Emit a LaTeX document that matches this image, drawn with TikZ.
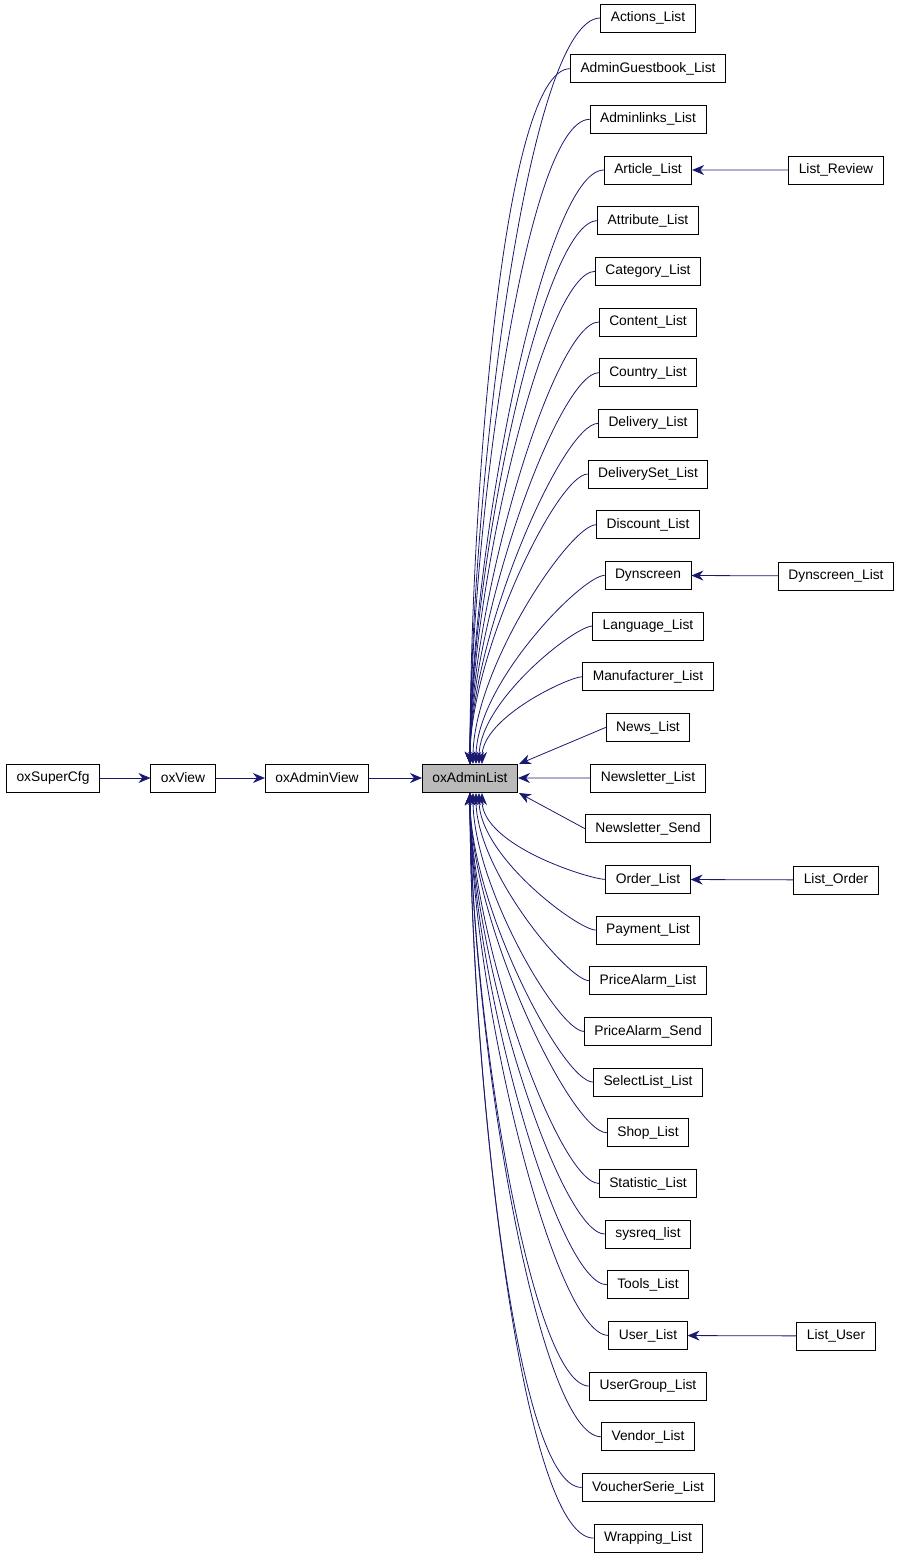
\documentclass[tikz,border=0pt]{standalone}
\usepackage{fontspec}
\setmainfont{Liberation Sans}
\usetikzlibrary{arrows.meta}
\definecolor{edgeblue}{RGB}{25,25,112}
\tikzset{
  cls/.style={draw, thick, fill=white, inner xsep=10pt, minimum height=28pt, font=\fontsize{13.8}{15}\selectfont},
  base/.style={cls, fill=black!27},
  inh/.style={edgeblue, thick, -{Stealth[length=12pt,width=10pt]}}
}
\begin{document}
\begin{tikzpicture}[x=1pt,y=-1pt]
\useasboundingbox (0,0) rectangle (901,1557);
\node[base] (al) at (470,778) {oxAdminList};
\node[cls] (av) at (317,778) {oxAdminView};
\node[cls] (vw) at (183,778) {oxView};
\node[cls] (sc) at (53,778) {oxSuperCfg};
\draw[inh] (av) -- (al);
\draw[inh] (vw) -- (av);
\draw[inh] (sc) -- (vw);
% derived classes
\foreach \txt [count=\i from 0] in {Actions\_List, AdminGuestbook\_List, Adminlinks\_List, Article\_List,
  Attribute\_List, Category\_List, Content\_List, Country\_List, Delivery\_List, DeliverySet\_List,
  Discount\_List, Dynscreen, Language\_List, Manufacturer\_List, News\_List, Newsletter\_List,
  Newsletter\_Send, Order\_List, Payment\_List, PriceAlarm\_List, PriceAlarm\_Send, SelectList\_List,
  Shop\_List, Statistic\_List, sysreq\_list, Tools\_List, User\_List, UserGroup\_List, Vendor\_List,
  VoucherSerie\_List, Wrapping\_List}{
  \node[cls] (c\i) at (648,18+50.67*\i) {\txt};
  \ifnum\i<14
    \pgfmathsetmacro\ex{470+3*max(0,\i-9)}
    \draw[inh] (c\i.west) to[out=180,in=90,out looseness=0.25,in looseness=0.9] (\ex,764);
  \else\ifnum\i>16
    \pgfmathsetmacro\ex{470+3*max(0,21-\i)}
    \draw[inh] (c\i.west) to[out=180,in=-90,out looseness=0.25,in looseness=0.9] (\ex,793);
  \fi\fi
}
\draw[inh] (c14.west) -- (519,764);
\draw[inh] (c15.west) -- (al.east);
\draw[inh] (c16.west) -- (519,793);
% second level
\node[cls] (lr) at (836,170) {List\_Review};
\node[cls] (dl) at (836,576) {Dynscreen\_List};
\node[cls] (lo) at (836,880) {List\_Order};
\node[cls] (lu) at (836,1336) {List\_User};
\draw[inh] (lr) -- (c3);
\draw[inh] (dl) -- (c11);
\draw[inh] (lo) -- (c17);
\draw[inh] (lu) -- (c26);
\end{tikzpicture}
\end{document}
